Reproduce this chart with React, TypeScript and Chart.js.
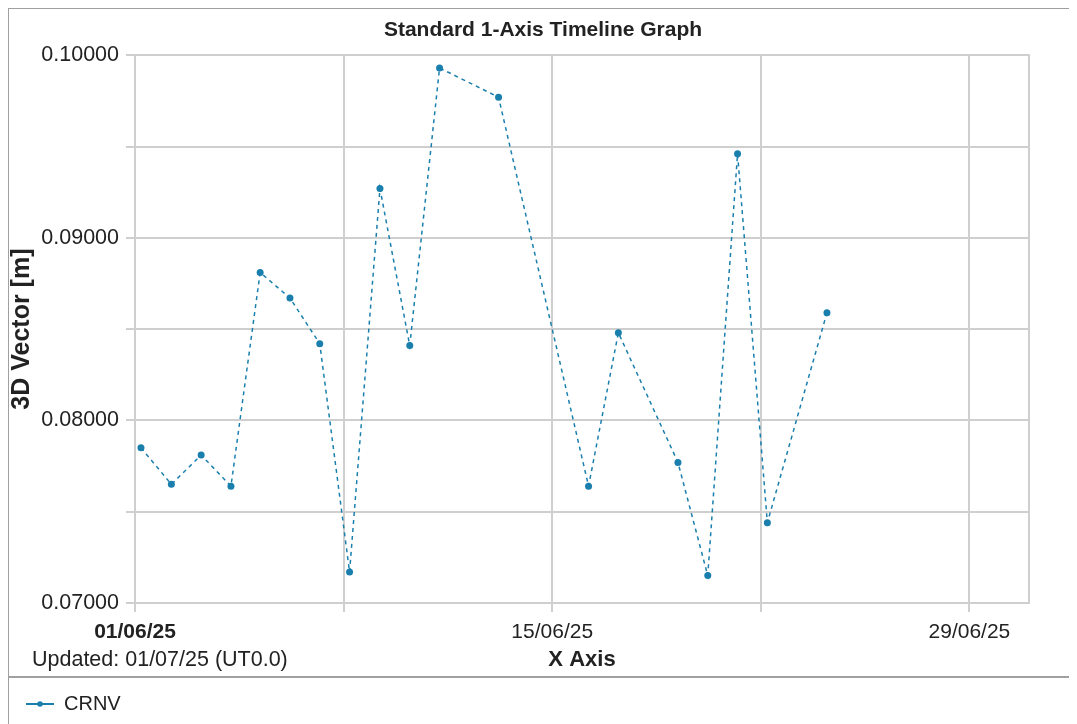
import React, { useEffect, useRef } from 'react';
import { Chart, registerables } from 'chart.js';

Chart.register(...registerables);

const chartTitle = 'Standard 1-Axis Timeline Graph';
const seriesName = 'CRNV';
const yAxisTitle = '3D Vector [m]';
const xAxisTitle = 'X Axis';
const updatedNote = 'Updated: 01/07/25 (UT0.0)';

// sample times, in days after 01/06/25 00:00
const sampleDays = [0.2, 1.22, 2.22, 3.22, 4.2, 5.2, 6.2, 7.2, 8.22, 9.22, 10.22, 12.2, 15.22, 16.22, 18.22, 19.22, 20.22, 21.22, 23.22];
const sampleValues = [0.0785, 0.0765, 0.0781, 0.0764, 0.0881, 0.0867, 0.0842, 0.0717, 0.0927, 0.0841, 0.0993, 0.0977, 0.0764, 0.0848, 0.0777, 0.0715, 0.0946, 0.0744, 0.0859];

const xTickDays = [0, 7, 14, 21, 28];
const xTickLabels = ['01/06/25', '', '15/06/25', '', '29/06/25'];
const xRange = [0, 30];
const yRange = [0.07, 0.1];
const yStep = 0.005;
const yLabelValues = [0.07, 0.08, 0.09, 0.1];

const FONT = '"Liberation Sans", Arial, Helvetica, sans-serif';
const LINE_COLOR = '#1a7fad';
const GRID = '#cfcfcf';
const TEXT = '#222222';

function makeLegendMarker(): HTMLCanvasElement {
  const c = document.createElement('canvas');
  c.width = 28;
  c.height = 10;
  const g = c.getContext('2d')!;
  g.strokeStyle = LINE_COLOR;
  g.lineWidth = 2;
  g.beginPath();
  g.moveTo(0, 5);
  g.lineTo(28, 5);
  g.stroke();
  g.fillStyle = LINE_COLOR;
  g.beginPath();
  g.arc(14, 5, 2.8, 0, Math.PI * 2);
  g.fill();
  return c;
}

export default function App() {
  const ref = useRef<HTMLCanvasElement | null>(null);

  useEffect(() => {
    if (!ref.current) return;
    Chart.defaults.font.family = FONT;
    const marker = makeLegendMarker();

    const framePlugin = {
      id: 'frame',
      beforeDatasetsDraw(chart: any) {
        const { ctx, chartArea } = chart;
        ctx.save();
        ctx.strokeStyle = GRID;
        ctx.lineWidth = 2;
        ctx.beginPath();
        ctx.moveTo(chartArea.right, chartArea.top - 1);
        ctx.lineTo(chartArea.right, chartArea.bottom + 1);
        ctx.stroke();
        ctx.restore();
      },
      afterDraw(chart: any) {
        const { ctx } = chart;
        const lg = chart.legend;
        ctx.save();
        ctx.strokeStyle = '#a0a0a0';
        ctx.lineWidth = 2;
        ctx.beginPath();
        ctx.moveTo(0, lg.top);
        ctx.lineTo(chart.width, lg.top);
        ctx.stroke();
        ctx.fillStyle = TEXT;
        ctx.font = `21.5px ${FONT}`;
        ctx.textAlign = 'left';
        ctx.textBaseline = 'middle';
        ctx.fillText(updatedNote, 23, 651);
        ctx.restore();
      },
    };

    const chart = new Chart(ref.current, {
      type: 'line',
      data: {
        datasets: [
          {
            label: seriesName,
            data: sampleDays.map((d, i) => ({ x: d, y: sampleValues[i] })),
            borderColor: LINE_COLOR,
            backgroundColor: LINE_COLOR,
            borderWidth: 1.5,
            borderDash: [4, 4],
            pointRadius: 3.5,
            pointBorderWidth: 0,
            pointBackgroundColor: LINE_COLOR,
            tension: 0,
          },
        ],
      },
      options: {
        animation: false,
        responsive: false,
        layout: { padding: 0 },
        plugins: {
          title: {
            display: true,
            text: chartTitle,
            color: TEXT,
            font: { size: 21, weight: 'bold', lineHeight: 1.2 },
            padding: { top: 9, bottom: 12 },
          },
          legend: {
            display: true,
            position: 'bottom',
            align: 'start',
            labels: {
              usePointStyle: true,
              pointStyle: marker as any,
              pointStyleWidth: 28,
              color: TEXT,
              padding: 17,
              font: { size: 20 },
            },
          },
          tooltip: { enabled: false },
        },
        scales: {
          x: {
            type: 'linear',
            min: xRange[0],
            max: xRange[1],
            afterFit: (s: any) => {
              s.height = 74;
            },
            afterBuildTicks: (s: any) => {
              s.ticks = xTickDays.map((v) => ({ value: v }));
            },
            ticks: {
              autoSkip: false,
              maxRotation: 0,
              padding: 8,
              color: TEXT,
              font: (ctx: any) => ({
                size: 21,
                weight: ctx && ctx.tick && ctx.tick.value === 0 ? 'bold' : 'normal',
              }),
              callback: (v: any) => {
                const i = xTickDays.indexOf(Number(v));
                return i >= 0 ? xTickLabels[i] : '';
              },
            },
            grid: { color: GRID, lineWidth: 2, tickLength: 9, tickColor: GRID },
            border: { color: GRID, width: 2 },
            title: {
              display: true,
              text: xAxisTitle,
              color: TEXT,
              font: { size: 22, weight: 'bold', lineHeight: 1.2 },
              padding: { top: 0, bottom: 4 },
            },
          },
          y: {
            type: 'linear',
            min: yRange[0],
            max: yRange[1],
            afterFit: (s: any) => {
              s.width = 126;
            },
            ticks: {
              stepSize: yStep,
              padding: 7,
              color: TEXT,
              font: { size: 21.5 },
              callback: (v: any) => {
                const n = Number(v);
                const hit = yLabelValues.find((t) => Math.abs(t - n) < 1e-7);
                return hit !== undefined ? hit.toFixed(5) : '';
              },
            },
            grid: { color: GRID, lineWidth: 2, tickLength: 9, tickColor: GRID },
            border: { color: GRID, width: 2 },
            title: {
              display: true,
              text: yAxisTitle,
              color: TEXT,
              font: { size: 25, weight: 'bold', lineHeight: 1.0 },
              padding: { top: 1, bottom: 0 },
            },
          },
          yRight: {
            type: 'linear',
            position: 'right',
            display: true,
            afterFit: (s: any) => {
              s.width = 48;
            },
            ticks: { display: false },
            grid: { display: false, drawTicks: false },
            border: { display: false },
          },
        },
      },
      plugins: [framePlugin],
    } as any);

    return () => chart.destroy();
  }, []);

  return (
    <div
      style={{
        position: 'relative',
        width: 1069,
        height: 716,
        boxSizing: 'border-box',
        borderLeft: '1px solid #a0a0a0',
        borderTop: '1px solid #a0a0a0',
        background: '#ffffff',
      }}
    >
      <canvas ref={ref} width={1068} height={715} style={{ display: 'block', width: 1068, height: 715 }} />
    </div>
  );
}
